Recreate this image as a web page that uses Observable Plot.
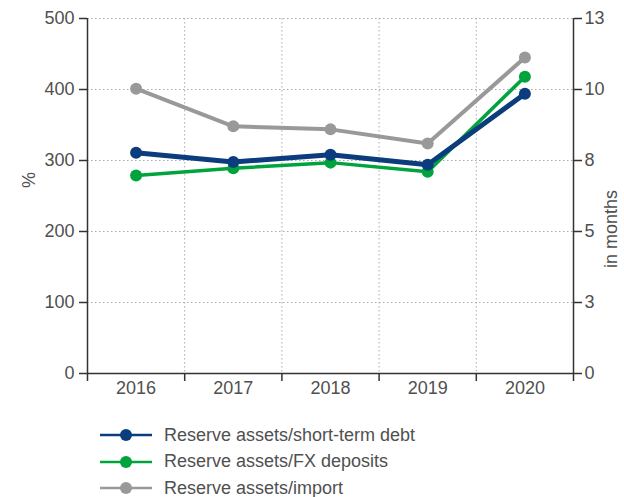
<!DOCTYPE html>
<html>
<head>
<meta charset="utf-8">
<script src="https://cdn.jsdelivr.net/npm/d3@7"></script>
<script src="https://cdn.jsdelivr.net/npm/@observablehq/plot@0.6"></script>
<style>
  body { margin: 0; background: #fff; font-family: "Liberation Sans", Arial, sans-serif; }
  #legend { margin-left: 100px; margin-top: 22px; }
  .row { display: flex; align-items: center; height: 26.5px; font-size: 18px; color: #505050; }
  .row svg { margin-right: 12px; }
</style>
</head>
<body>
<div id="chart"></div>
<div id="legend"></div>
<script>
const years = [2016, 2017, 2018, 2019, 2020];
const shortTermDebt = [311, 298, 308, 294, 394];   // %
const fxDeposits = [279, 289, 297, 284, 418];      // %
const importMonths = [10.43, 9.05, 8.94, 8.42, 11.57]; // in months
const leftTicks = [0, 100, 200, 300, 400, 500];
const monthsMax = 13;
const pctMax = 500;

const seriesNames = ["Reserve assets/short-term debt", "Reserve assets/FX deposits", "Reserve assets/import"];
const colors = ["#0b3c7d", "#00a33c", "#999999"];
const widths = [5, 3.5, 4];

const toPct = m => m * pctMax / monthsMax;
const rows = [];
years.forEach((y, i) => {
  rows.push({year: y, value: shortTermDebt[i], s: seriesNames[0]});
  rows.push({year: y, value: fxDeposits[i], s: seriesNames[1]});
  rows.push({year: y, value: toPct(importMonths[i]), s: seriesNames[2]});
});
const boundaries = [years[0] - 0.5, ...years.map(y => y + 0.5)];
const inner = boundaries.slice(1, -1);

const drawOrder = [seriesNames[2], seriesNames[1], seriesNames[0]];
const lineMarks = drawOrder.map(name => {
  const k = seriesNames.indexOf(name);
  const d = rows.filter(r => r.s === name);
  return [
    Plot.line(d, {x: "year", y: "value", stroke: colors[k], strokeWidth: widths[k]}),
    Plot.dot(d, {x: "year", y: "value", fill: colors[k], r: 6})
  ];
}).flat();

const txt = "#505050";
const chart = Plot.plot({
  width: 624,
  height: 400,
  marginLeft: 87,
  marginRight: 51,
  marginTop: 18,
  marginBottom: 27,
  style: {fontFamily: "Liberation Sans, Arial, sans-serif", fontSize: "18px", color: txt, background: "#fff"},
  x: {domain: [boundaries[0], boundaries[boundaries.length - 1]], axis: null},
  y: {domain: [0, pctMax], axis: null},
  marks: [
    Plot.gridY(leftTicks.slice(1), {stroke: "#aaa", strokeOpacity: 1, strokeDasharray: "1.5,2.5", strokeWidth: 1}),
    Plot.gridX(inner, {stroke: "#aaa", strokeOpacity: 1, strokeDasharray: "1.5,2.5", strokeWidth: 1}),
    Plot.axisX(years, {tickSize: 0, tickPadding: 8, tickFormat: d => String(d), fontSize: 18, label: null, fill: txt}),
    Plot.axisX(boundaries, {tickSize: 8, tickFormat: () => "", stroke: "#333", strokeWidth: 1.5, label: null}),
    Plot.axisY(leftTicks, {anchor: "left", tickSize: 8, tickPadding: 5, stroke: "#333", strokeWidth: 1.5, fontSize: 18, label: null, fill: txt}),
    Plot.axisY(leftTicks, {anchor: "right", tickSize: 8, tickPadding: 3, stroke: "#333", strokeWidth: 1.5, fontSize: 18, label: null, fill: txt,
      tickFormat: d => String(Math.round(d * monthsMax / pctMax))}),
    Plot.ruleY([0], {stroke: "#333", strokeWidth: 1.5}),
    Plot.ruleX([boundaries[0], boundaries[boundaries.length - 1]], {stroke: "#333", strokeWidth: 1.5}),
    Plot.text(["%"], {frameAnchor: "left", dx: -58, dy: -8, rotate: -90, fontSize: 18, fill: txt}),
    Plot.text(["in months"], {frameAnchor: "right", dx: 38, dy: -6, rotate: -90, fontSize: 18, fill: txt}),
    ...lineMarks
  ]
});
document.getElementById("chart").appendChild(chart);

const legend = document.getElementById("legend");
seriesNames.forEach((name, k) => {
  const row = document.createElement("div");
  row.className = "row";
  row.innerHTML = `<svg width="52" height="14"><line x1="0" x2="52" y1="7" y2="7" stroke="${colors[k]}" stroke-width="2.5"/><circle cx="26" cy="7" r="6" fill="${colors[k]}"/></svg><span>${name}</span>`;
  legend.appendChild(row);
});
</script>
</body>
</html>
